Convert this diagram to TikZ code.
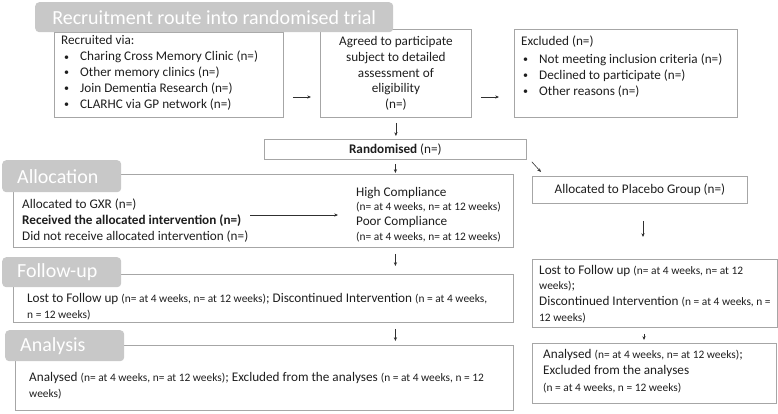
\documentclass[tikz,border=0pt]{standalone}
\usepackage{fontspec}
\setmainfont{Carlito}
\usetikzlibrary{arrows.meta,calc}
\definecolor{hdr}{HTML}{C8C8C8}
\definecolor{bxc}{HTML}{A6A6A6}
\definecolor{txt}{HTML}{1E1E1E}
\definecolor{arc}{HTML}{303030}
\newcommand{\nf}{\fontsize{13.2}{15.8}\selectfont}
\newcommand{\sm}{\fontsize{11.4}{13}\selectfont}
\newcommand{\bul}{\hspace*{3pt}\makebox[16pt][l]{\raisebox{0.6pt}{\fontsize{10}{10}\selectfont\textbullet}}}
\begin{document}
\begin{tikzpicture}[x=1pt,y=-1pt,
 box/.style={draw=bxc, line width=0.8pt, inner sep=0pt, anchor=north west},
 hdrbox/.style={fill=hdr, rounded corners=4pt, inner sep=0pt, anchor=north west},
 hdrtext/.style={text=white, font=\fontsize{20}{24}\selectfont, inner sep=0pt},
 lbl/.style={text=txt, font=\nf, inner sep=0pt, anchor=base west, align=left},
 clbl/.style={text=txt, font=\nf, inner sep=0pt, align=center},
 arr/.style={draw=arc, line width=0.6pt, -{Stealth[length=3.8pt,width=3.2pt]}},
]
\useasboundingbox (0,0) rectangle (778,413);

% top row (text nodes anchored at the baseline of their last line)
\node[box, minimum width=229pt, minimum height=85pt] (rec) at (54,32) {};
\node[box, minimum width=151pt, minimum height=88pt] (agr) at (320,29) {};
\node[box, minimum width=223pt, minimum height=88pt] (exc) at (514,29) {};
\node[lbl] (rect) at (61,108) {Recruited via:\\
\bul Charing Cross Memory Clinic (n=)\\
\bul Other memory clinics (n=)\\
\bul Join Dementia Research (n=)\\
\bul CLARHC via GP network (n=)};
\node[clbl] (agrt) at (agr.center) {Agreed to participate\\ subject to detailed\\ assessment of\\ eligibility\\ (n=)};
\node[lbl] (exct) at (521,95) {Excluded (n=)\\[2pt]
\hspace*{-1pt}\bul Not meeting inclusion criteria (n=)\\
\hspace*{-1pt}\bul Declined to participate (n=)\\
\hspace*{-1pt}\bul Other reasons (n=)};
\node[hdrbox, minimum width=358pt, minimum height=30pt] (h1) at (35,2) {};
\node[hdrtext] (h1t) at (h1.center) {Recruitment route into randomised trial};

% randomised
\node[box, minimum width=262pt, minimum height=20pt] (rand) at (264,139) {};
\node[clbl] (randt) at (rand.center) {\textbf{Randomised} (n=)};

% allocation
\node[box, minimum width=500pt, minimum height=73pt] (alloc) at (13,174) {};
\node[hdrbox, minimum width=119pt, minimum height=32pt] (h2) at (2,160) {};
\node[hdrtext, anchor=west] (h2t) at ($(h2.west)+(15,0)$) {Allocation};
\node[lbl] (allt) at (22,240) {Allocated to GXR (n=)\\ \textbf{Received the allocated intervention (n=)}\\ Did not receive allocated intervention (n=)};
\node[lbl, font=\fontsize{13.2}{14.8}\selectfont] (compt) at (356,240.4) {High Compliance\\ {\sm (n= at 4 weeks, n= at 12 weeks)}\\ Poor Compliance\\ {\sm (n= at 4 weeks, n= at 12 weeks)}};
\coordinate (ra1) at (250,215);
\coordinate (ra2) at (338,215);

\node[box, minimum width=215pt, minimum height=27pt] (plac) at (532,176) {};
\node[clbl] (plact) at (plac.center) {Allocated to Placebo Group (n=)};

% follow-up
\node[box, minimum width=500pt, minimum height=48pt] (fu) at (13,274) {};
\node[hdrbox, minimum width=119pt, minimum height=30pt] (h3) at (2,257) {};
\node[hdrtext, anchor=west] (h3t) at ($(h3.west)+(15,0)$) {Follow-up};
\node[lbl] (fut) at (27,318) {Lost to Follow up {\sm (n= at 4 weeks, n= at 12 weeks)}; Discontinued Intervention {\sm (n = at 4 weeks,}\\ {\sm n = 12 weeks)}};

\node[box, minimum width=245pt, minimum height=68pt] (rfu) at (532,259) {};
\node[lbl] (rfut) at (539,321.4) {Lost to Follow up {\sm (n= at 4 weeks, n= at 12}\\ {\sm weeks)};\\ Discontinued Intervention {\sm (n = at 4 weeks, n =}\\ {\sm 12 weeks)}};

% analysis
\node[box, minimum width=498pt, minimum height=65pt] (an) at (15,345) {};
\node[hdrbox, minimum width=119pt, minimum height=31pt] (h4) at (5,330) {};
\node[hdrtext, anchor=west] (h4t) at ($(h4.west)+(15,0)$) {Analysis};
\node[lbl] (ant) at (29,397) {Analysed {\sm (n= at 4 weeks, n= at 12 weeks)}; Excluded from the analyses {\sm (n = at 4 weeks, n = 12}\\ {\sm weeks)}};

\node[box, minimum width=244pt, minimum height=60pt] (ran) at (532,343) {};
\node[lbl, font=\fontsize{13.2}{16.6}\selectfont] (rant) at (543,391.2) {Analysed {\sm (n= at 4 weeks, n= at 12 weeks)};\\ Excluded from the analyses\\ {\sm (n = at 4 weeks, n = 12 weeks)}};

% connectors
\draw[arr, shorten <=9pt, shorten >=9pt] (rec.east |- 0,97) -- (agr.west |- 0,97);
\draw[arr, shorten <=9pt, shorten >=15pt] (agr.east |- 0,97) -- (exc.west |- 0,97);
\draw[arr, shorten <=5pt, shorten >=3pt] (agr.south) -- (agr.south |- rand.north);
\draw[arr, shorten <=4pt, shorten >=1pt] (rand.south) -- (rand.south |- alloc.north);
\draw[arr] (ra1) -- (ra2);
\draw[arr] ($(rand.south east)+(5,2)$) -- ($(plac.north west)+(9,-4)$);
\draw[arr, shorten <=17pt, shorten >=22pt] (plac.south -| 643,0) -- (rfu.north -| 643,0);
\draw[arr, shorten <=6pt, shorten >=8pt] (alloc.south -| rand.south) -- (fu.north -| rand.south);
\draw[arr, shorten <=6pt, shorten >=4pt] (fu.south -| rand.south) -- (an.north -| rand.south);
\draw[arr, shorten <=6pt, shorten >=3pt] (rfu.south -| 644,0) -- (ran.north -| 644,0);
\end{tikzpicture}
\end{document}
